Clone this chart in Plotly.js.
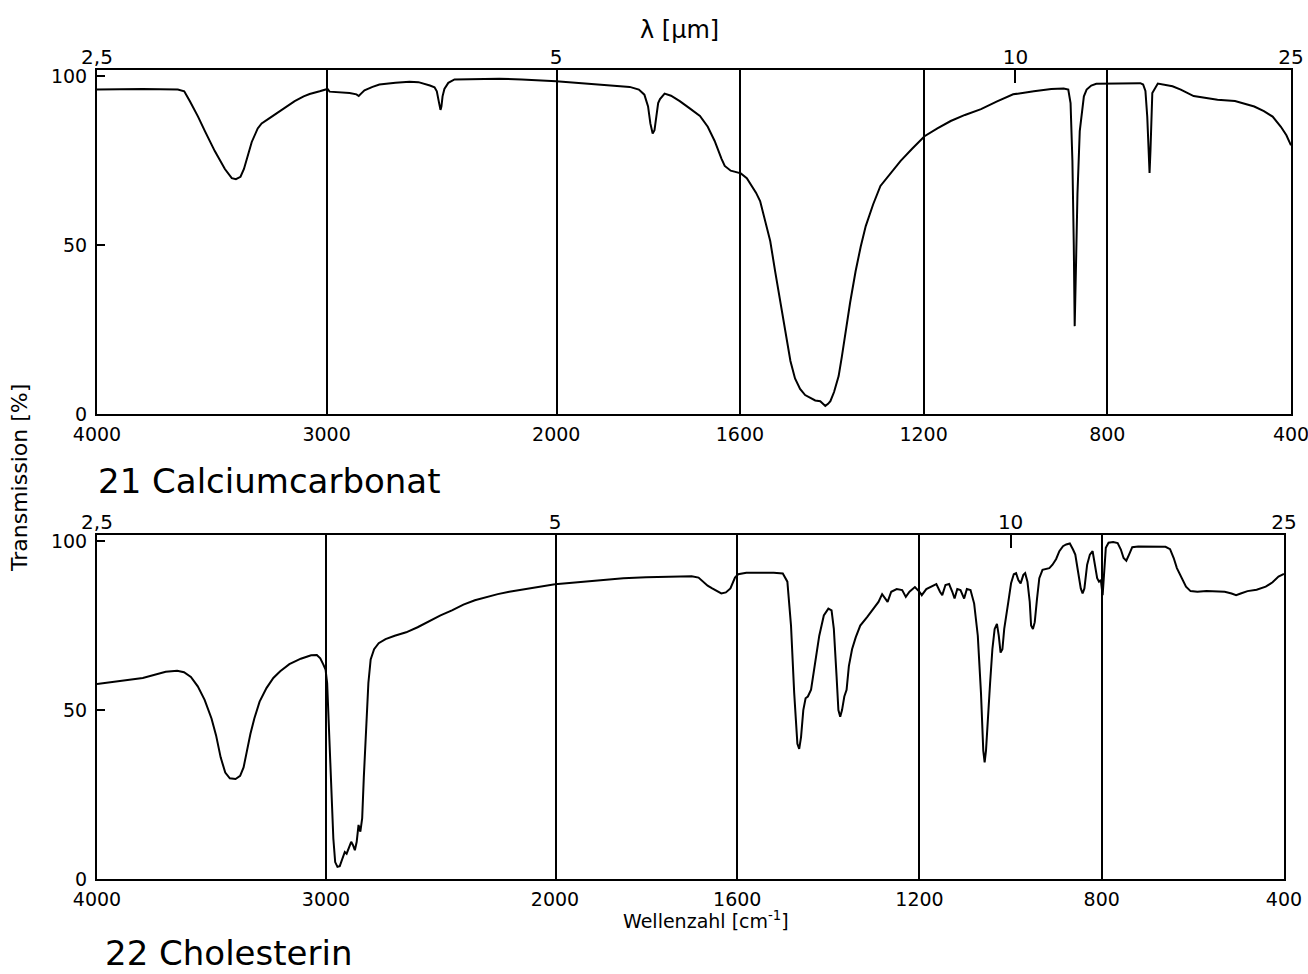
<!DOCTYPE html>
<html><head><meta charset="utf-8">
<script src="https://cdn.plot.ly/plotly-3.0.1.min.js"></script>
<style>html,body{margin:0;padding:0;background:#fff}#chart{width:1308px;height:974px}</style>
</head><body><div id="chart"></div>
<script>
// ---------- data ----------
const calcitWn = [4000,3800,3648,3620,3596,3560,3530,3487,3443,3413,3395,3375,3360,3340,3326,3300,3283,3250,3204,3160,3139,3100,3074,3030,2996,2987,2950,2900,2870,2860,2850,2835,2800,2770,2700,2639,2600,2574,2550,2530,2520,2510,2504,2500,2495,2487,2470,2443,2350,2248,2150,2050,2000,1950,1906,1870,1840,1820,1808,1800,1795,1790,1786,1782,1778,1774,1764,1750,1731,1710,1687,1670,1655,1640,1633,1620,1598,1585,1578,1565,1556,1545,1534,1523,1512,1500,1490,1480,1469,1458,1447,1436,1425,1418,1414,1408,1403,1395,1385,1378,1370,1360,1348,1337,1326,1310,1294,1270,1250,1225,1198,1170,1141,1110,1075,1040,1005,960,922,895,885,880,876,873,871,868,865,860,855,851,845,835,824,800,760,728,722,717,713,710,708,706,704,702,690,658,640,612,560,522,480,459,440,422,410,400];
const calcitT  = [96,96.2,96,95.5,92.6,88,83.7,77.8,72.5,69.8,69.5,70.2,72.5,77,80.5,84.5,86,87.5,89.6,91.5,92.6,94,94.7,95.5,96.2,95.4,95.2,95,94.6,94.1,94.8,95.8,96.8,97.5,98,98.3,98.2,97.8,97.2,96.7,95.5,92,90,91,94,96.2,98,99,99.2,99.2,99,98.7,98.5,98,97.6,97.3,96.8,96,94.5,91,86,83,84,88,92,93.2,94.8,94.2,92.6,90.5,88.2,85,80.8,75.5,73.4,72,71.2,69.8,68.3,65.5,63,57.5,51.2,42,33.4,23,15.7,10.5,7.4,5.6,4.7,4,3.8,3,2.4,3,3.8,6.5,11.2,17,24.6,33,42.3,49.5,55.6,62,67.5,71.5,74.9,78.5,82.2,84.5,86.7,88.5,90.2,92.5,94.6,95.5,96.2,96.3,96,92,75,50,26,45,65,83.7,90,94,96,97.2,97.7,97.8,97.9,97.9,97.5,95.6,88,78,71.3,78,88,95,97.8,97,96,94.1,93,92.6,91,89.6,88,85,82.5,79.5];

const cholWn = [4000,3900,3800,3700,3650,3620,3590,3560,3530,3500,3480,3460,3440,3420,3395,3375,3360,3345,3330,3313,3290,3260,3230,3200,3160,3110,3065,3040,3025,3012,3002,2995,2988,2978,2968,2960,2950,2940,2930,2918,2910,2900,2890,2882,2874,2866,2858,2850,2842,2835,2825,2815,2805,2790,2770,2740,2700,2650,2600,2550,2500,2450,2400,2350,2300,2250,2200,2150,2100,2050,2000,1950,1900,1850,1800,1750,1700,1685,1675,1665,1655,1645,1635,1625,1615,1605,1598,1580,1550,1520,1500,1490,1482,1475,1468,1464,1460,1455,1450,1445,1438,1430,1420,1410,1400,1393,1388,1382,1378,1374,1370,1365,1360,1355,1348,1340,1330,1315,1300,1290,1282,1276,1270,1262,1250,1238,1230,1222,1210,1200,1195,1185,1175,1163,1155,1150,1143,1135,1128,1123,1117,1110,1102,1096,1088,1080,1072,1065,1060,1057,1054,1050,1045,1040,1035,1030,1026,1022,1018,1014,1010,1005,999,993,988,983,978,972,968,963,958,955,951,947,942,937,930,922,915,908,900,893,885,878,870,863,858,852,846,842,838,832,826,820,815,810,806,802,798,795,791,785,775,765,758,752,746,740,733,720,700,680,660,650,642,635,625,615,605,590,570,550,530,515,505,495,480,460,440,425,412,400];
const cholT  = [57.7,58.5,59.5,61.3,61.6,61.2,59.8,57,53,47.5,42.5,36,31.5,29.8,29.6,30.5,33,38,43,47.5,52.5,56.5,59.5,61.5,63.6,65.2,66.2,66.3,65.3,63.5,62,58,45,28,12,5,3.6,3.8,5.5,8,7.5,9,11,10,8.5,11,16,14,18,30,45,58,65,68,69.8,71,72,73,74.5,76.3,78,79.5,81.2,82.5,83.5,84.3,85,85.5,86.1,86.7,87.2,87.8,88.5,89,89.3,89.5,89.6,89.2,88,86.8,86,85.2,84.5,84.8,86,89.2,90.2,90.6,90.7,90.6,90.4,88,75,55,40,38.5,42,50,53.5,54,56,63,72,78,80,79.5,74,60,50,48,50,54,56,63,68,71.5,75,77.5,80,82,84.3,83,82,85,85.8,85.5,83.5,85,86.4,85,84,85.8,86.5,87.3,85,84,87,87.3,85,83,85.8,85.5,83,85.8,85.5,81.5,72,55,38,34.5,38,48,58,68,74,75.5,72,67,68,74,77,82,87.5,90.2,90.5,88.5,87.5,90,90.5,88,82,75,74,76,83,89,91.5,91.8,92,93,94.7,97,98.5,99,99.3,97.5,96,91,86,84.5,86,93,96,97,93,89,88,88.5,84,90,98,99.5,99.7,99.4,97.5,95,94.2,96,98.2,98.4,98.4,98.4,98.3,97.6,95,92,89,86.5,85.2,85,85.2,85.2,85,84.5,84,84.5,85.2,85.6,86.5,87.8,89.5,90.3];

const leftTickVals = [4000,3000,2000];
const rightTickVals = [1600,1200,800,400];
const lambdaLeftVals = [4000,2000];
const lambdaLeftText = ['2,5','5'];
const lambdaRightVals = [1000,400];
const lambdaRightText = ['10','25'];
const yTickVals = [0,50,100];
const panelNames = ['21 Calciumcarbonat','22 Cholesterin'];
const xTitle = 'Wellenzahl [cm<sup>-1</sup>]';
const yTitle = 'Transmission [%]';
const lambdaTitle = 'λ [µm]';

// ---------- helpers ----------
function segment(wn, t, lo, hi) {
  const xs = [], ys = [];
  wn.forEach((w, i) => { if (w >= lo && w <= hi) { xs.push(w); ys.push(t[i]); } });
  return {x: xs, y: ys};
}
const FONT = 'DejaVu Sans';
const lineStyle = {color: '#000', width: 2};
function trace(seg, xa, ya) {
  return {x: seg.x, y: seg.y, xaxis: xa, yaxis: ya, type: 'scatter', mode: 'lines',
          line: lineStyle, hoverinfo: 'skip', showlegend: false};
}
// carrier traces so the overlay axes (top wavelength scale, right frame) get drawn; they draw nothing
function carrier(vals, xa, ya) {
  return {x: vals, y: vals.map(() => null), xaxis: xa, yaxis: ya, type: 'scatter',
          mode: 'lines', line: {width: 0}, hoverinfo: 'skip', showlegend: false};
}
const data = [
  trace(segment(calcitWn, calcitT, 2000, 4000), 'x', 'y'),
  trace(segment(calcitWn, calcitT, 400, 2000), 'x2', 'y'),
  trace(segment(cholWn, cholT, 2000, 4000), 'x3', 'y2'),
  trace(segment(cholWn, cholT, 400, 2000), 'x4', 'y2'),
  carrier(lambdaLeftVals, 'x5', 'y'),
  carrier(lambdaRightVals, 'x6', 'y'),
  carrier(lambdaLeftVals, 'x7', 'y2'),
  carrier(lambdaRightVals, 'x8', 'y2'),
  carrier(rightTickVals, 'x2', 'y3'),
  carrier(rightTickVals, 'x4', 'y4')
];

function bottomAxis(domain, range, vals, ya) {
  return {domain: domain, range: range, anchor: ya, tickmode: 'array', tickvals: vals,
          ticktext: vals.map(String), ticks: '', showline: true, mirror: true,
          linecolor: '#000', linewidth: 2, showgrid: true, gridcolor: '#000', gridwidth: 2,
          zeroline: false, tickfont: {family: FONT, size: 19, color: '#000'},
          ticklabelstandoff: 2, ticklabeloverflow: 'allow', fixedrange: true};
}
function topAxis(over, range, vals, text, ya, withTicks) {
  return {overlaying: over, side: 'top', anchor: ya, range: range, tickmode: 'array',
          tickvals: vals, ticktext: text, ticks: withTicks ? 'inside' : '', ticklen: 13,
          tickwidth: 2, tickcolor: '#000', showline: false, showgrid: false, zeroline: false,
          tickfont: {family: FONT, size: 20, color: '#000'}, ticklabelstandoff: 1,
          ticklabeloverflow: 'allow', fixedrange: true};
}
function leftAxis(domain, xa) {
  return {domain: domain, range: [0, 101.8], anchor: xa, tickmode: 'array', tickvals: yTickVals,
          ticktext: yTickVals.map(String), ticks: 'inside', ticklen: 8, tickwidth: 2, tickcolor: '#000',
          showline: true, mirror: true, linecolor: '#000', linewidth: 2, showgrid: false,
          zeroline: false, tickfont: {family: FONT, size: 19, color: '#000'},
          ticklabelstandoff: 4, fixedrange: true};
}
function rightFrame(over, xa) {
  return {overlaying: over, anchor: xa, side: 'right', range: [0, 101.8], showline: true,
          linecolor: '#000', linewidth: 2, ticks: '', showticklabels: false, showgrid: false,
          zeroline: false, fixedrange: true};
}

const s1 = 0.3846, s2 = 0.3836, r2 = 0.9941;
const layout = {
  width: 1308, height: 974,
  margin: {l: 97, r: 17, t: 70, b: 95},
  paper_bgcolor: '#fff', plot_bgcolor: '#fff',
  font: {family: FONT, color: '#000'},
  showlegend: false,
  xaxis:  bottomAxis([0, s1], [4000, 2000], leftTickVals, 'y'),
  xaxis2: bottomAxis([s1, 1], [2000, 400], rightTickVals, 'y'),
  xaxis3: bottomAxis([0, s2], [4000, 2000], leftTickVals, 'y2'),
  xaxis4: bottomAxis([s2, r2], [2000, 400], rightTickVals, 'y2'),
  xaxis5: topAxis('x', [4000, 2000], lambdaLeftVals, lambdaLeftText, 'y', false),
  xaxis6: topAxis('x2', [2000, 400], lambdaRightVals, lambdaRightText, 'y', true),
  xaxis7: topAxis('x3', [4000, 2000], lambdaLeftVals, lambdaLeftText, 'y2', false),
  xaxis8: topAxis('x4', [2000, 400], lambdaRightVals, lambdaRightText, 'y2', true),
  yaxis:  leftAxis([0.5748, 1], 'x'),
  yaxis2: leftAxis([0, 0.4252], 'x3'),
  yaxis3: rightFrame('y', 'x2'),
  yaxis4: rightFrame('y2', 'x4'),
  annotations: [
    {text: yTitle, xref: 'paper', yref: 'paper', x: -0.0645, y: 0.4957, textangle: -90,
     showarrow: false, xanchor: 'center', yanchor: 'middle', font: {family: FONT, size: 22, color: '#000'}},
    {text: panelNames[0], xref: 'paper', yref: 'paper', x: -0.001, y: 0.492,
     showarrow: false, xanchor: 'left', yanchor: 'middle', font: {family: FONT, size: 34, color: '#000'}},
    {text: panelNames[1], xref: 'paper', yref: 'paper', x: 0.005, y: -0.0915,
     showarrow: false, xanchor: 'left', yanchor: 'middle', font: {family: FONT, size: 34, color: '#000'}},
    {text: xTitle, xref: 'paper', yref: 'paper', x: 0.51, y: -0.0505,
     showarrow: false, xanchor: 'center', yanchor: 'middle', font: {family: FONT, size: 19, color: '#000'}},
    {text: lambdaTitle, xref: 'paper', yref: 'paper', x: 0.488, y: 1.0494,
     showarrow: false, xanchor: 'center', yanchor: 'middle', font: {family: FONT, size: 24, color: '#000'}}
  ]
};
Plotly.newPlot('chart', data, layout, {staticPlot: true, displayModeBar: false});
</script>
</body></html>
